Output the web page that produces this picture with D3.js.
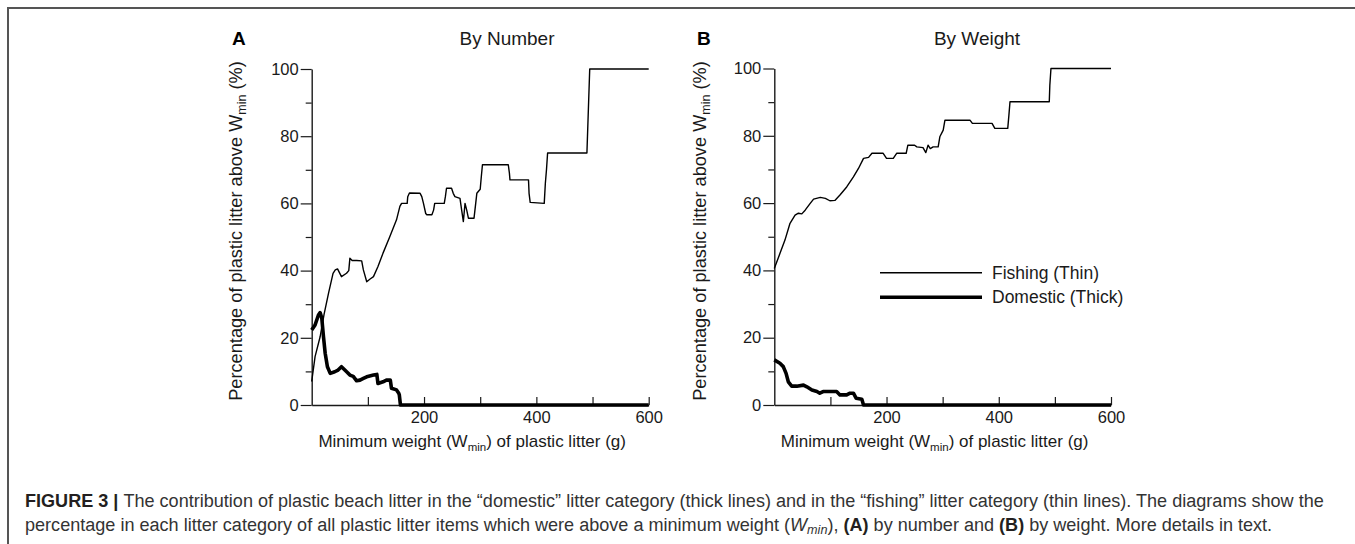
<!DOCTYPE html>
<html><head><meta charset="utf-8">
<script src="https://cdn.jsdelivr.net/npm/d3@7"></script>
<style>
html,body{margin:0;padding:0;background:#fff;}
svg{display:block;}
text{font-family:"Liberation Sans",Arial,sans-serif;}
</style></head>
<body>
<svg id="c" width="1355" height="544"></svg>
<script>
// ---- data (x = minimum weight in g, y = percentage) ----
const fishingByNumber = [[0,7],[6,14.4],[15,20.3],[22,27],[30,33.3],[38,39.2],[42,40.2],[46,40.5],[53,38.2],[62,39.2],[66,40],[68,43.7],[72,43],[80,43],[89,42.9],[92,40.2],[98,36.7],[104,37.5],[110,38.2],[118,41.2],[127,45.2],[139,50.1],[151,55.1],[157,59.1],[160,60],[170,60],[171,62],[174,63.1],[193,63],[196,62],[199,60],[203,57],[205,56.6],[214,56.6],[217,58],[219,60],[236,60],[238,62],[240,64.5],[249,64.5],[252,63],[255,62],[264,61.5],[267,58],[270,54.6],[273,60],[276,58],[279,55.6],[289,55.6],[292,60],[294,63],[300,64.2],[302,68],[304,71.5],[350,71.5],[352,69],[353,67],[386,67],[387,63],[389,60.3],[414,60],[416,66],[418,70],[420,75],[490,75],[491,80],[493,90],[495,100],[600,100]];
const domesticByNumber = [[0,22.3],[6,23.8],[12,26.8],[15,27.5],[18,25.8],[21,20.3],[24,15.4],[28,11.4],[33,9.4],[41,9.9],[47,10.4],[53,11.4],[59,10.4],[64,9.6],[68,8.9],[74,8.5],[80,7.2],[86,7.4],[92,7.9],[98,8.4],[110,8.9],[116,9.1],[118,6.4],[127,6.9],[133,7.4],[140,7.4],[142,5],[151,4.5],[155,3.5],[156,3],[158,0],[600,0]];
const fishingByWeight = [[0,40.6],[10,45],[19,49],[28,54],[37,56.4],[43,57],[49,56.8],[55,57.9],[64,59.9],[70,61.2],[82,61.7],[91,61.4],[99,60.7],[108,60.8],[117,62.4],[129,64.8],[141,67.8],[150,70.3],[159,73.3],[168,73.6],[174,74.8],[194,74.8],[200,73.3],[212,73.3],[218,74.8],[235,74.8],[238,77.2],[250,77.2],[254,76.7],[265,76.5],[270,75],[274,77.2],[278,76.2],[283,76.7],[292,76.7],[295,79.7],[301,81.7],[304,84.6],[349,84.6],[353,83.7],[388,83.7],[393,82.2],[416,82.2],[418,86],[420,90.1],[490,90.1],[491,95],[493,100],[600,100]];
const domesticByWeight = [[0,13.4],[10,12.4],[16,11.4],[21,9.4],[25,6.9],[31,5.6],[40,5.6],[52,5.9],[58,5.4],[67,4.45],[76,4],[81,3.5],[87,4],[111,4],[117,3],[129,3],[135,3.5],[141,3.5],[146,2],[156,1.7],[159,0],[600,0]];

const xMajorTicks = [200,400,600];
const xAllTicks = [100,200,300,400,500,600];
const yMajorTicks = [0,20,40,60,80,100];
const yMinorTicks = [10,30,50,70,90];
const panelTitles = ["By Number","By Weight"];
const panelLetters = ["A","B"];
const legendLabels = ["Fishing (Thin)","Domestic (Thick)"];

const svg = d3.select("#c");
const ink = "#1a1a1a";

// frame (top and left rules)
svg.append("path").attr("d","M8,544V8H1355").attr("fill","none").attr("stroke","#555").attr("stroke-width",2);

const panels = [
  {x0:311.7, x1:648.7, y0:405, y1:69, fish:fishingByNumber, dom:domesticByNumber, labelX:242, titleX:507, letterX:232},
  {x0:774.3, x1:1111, y0:405, y1:68.5, fish:fishingByWeight, dom:domesticByWeight, labelX:706, titleX:977, letterX:697}
];

panels.forEach((p,i)=>{
  const x = d3.scaleLinear().domain([0,600]).range([p.x0,p.x1]);
  const y = d3.scaleLinear().domain([0,100]).range([p.y0,p.y1]);
  const g = svg.append("g");

  // y axis: major ticks with labels
  const ya = g.append("g").attr("transform",`translate(${p.x0},0)`)
    .call(d3.axisLeft(y).tickValues(yMajorTicks).tickSize(11).tickPadding(2).tickSizeOuter(0));
  ya.select(".domain").attr("stroke",ink).attr("stroke-width",1.4);
  ya.selectAll(".tick line").attr("stroke",ink).attr("stroke-width",1.2);
  ya.selectAll(".tick text").attr("font-size",16.5).attr("fill",ink).attr("font-family","Liberation Sans, Arial, sans-serif");
  const yb = g.append("g").attr("transform",`translate(${p.x0},0)`)
    .call(d3.axisLeft(y).tickValues(yMinorTicks).tickSize(6).tickFormat("").tickSizeOuter(0));
  yb.select(".domain").remove();
  yb.selectAll(".tick line").attr("stroke",ink).attr("stroke-width",1.2);

  // x axis: ticks point inward
  const xa = g.append("g").attr("transform",`translate(0,${p.y0})`)
    .call(d3.axisBottom(x).tickValues(xAllTicks).tickSize(0).tickSizeOuter(0)
      .tickFormat(d=> xMajorTicks.includes(d)? d3.format("d")(d):""));
  xa.select(".domain").attr("stroke",ink).attr("stroke-width",1.4);
  xa.selectAll(".tick line").attr("y2",-8).attr("stroke",ink).attr("stroke-width",1.2);
  xa.selectAll(".tick text").attr("font-size",16.5).attr("fill",ink).attr("dy","0.71em").attr("y",6)
    .attr("font-family","Liberation Sans, Arial, sans-serif");

  const line = d3.line().x(d=>x(d[0])).y(d=>y(d[1]));
  g.append("path").datum(p.dom).attr("d",line).attr("fill","none").attr("stroke","#000")
    .attr("stroke-width",3.6).attr("stroke-linejoin","round");
  g.append("path").datum(p.fish).attr("d",line).attr("fill","none").attr("stroke","#000")
    .attr("stroke-width",1.4).attr("stroke-linejoin","round");

  // titles
  g.append("text").attr("x",p.titleX).attr("y",45).attr("text-anchor","middle").attr("font-size",19).attr("fill",ink).text(panelTitles[i]);
  g.append("text").attr("x",p.letterX).attr("y",45).attr("font-size",19).attr("font-weight","bold").attr("fill","#000").text(panelLetters[i]);

  // y label
  const yl = g.append("text").attr("transform",`translate(${p.labelX},231) rotate(-90)`)
    .attr("text-anchor","middle").attr("font-size",18.2).attr("fill",ink);
  yl.append("tspan").text("Percentage of plastic litter above W");
  yl.append("tspan").attr("font-size",12.5).attr("dy",4).text("min");
  yl.append("tspan").attr("dy",-4).text(" (%)");

  // x label
  const xl = g.append("text").attr("x",(p.x0+p.x1)/2 - 8).attr("y",447)
    .attr("text-anchor","middle").attr("font-size",17).attr("fill",ink);
  xl.append("tspan").text("Minimum weight (W");
  xl.append("tspan").attr("font-size",11.5).attr("dy",4).text("min");
  xl.append("tspan").attr("dy",-4).text(") of plastic litter (g)");
});

// legend (panel B)
const leg = svg.append("g");
const legYs = [272.7, 297.3];
const legW = [1.4, 3.6];
legendLabels.forEach((lab,i)=>{
  leg.append("line").attr("x1",880).attr("x2",982).attr("y1",legYs[i]).attr("y2",legYs[i])
    .attr("stroke","#000").attr("stroke-width",legW[i]);
  leg.append("text").attr("x",992).attr("y",legYs[i]+6).attr("font-size",17.5).attr("fill",ink).text(lab);
});

// caption
const cap = svg.append("g").attr("fill","#333");
const l1 = cap.append("text").attr("x",25).attr("y",507).attr("font-size",15);
l1.append("tspan").attr("font-weight","bold").attr("fill","#231f20").text("FIGURE 3 | ");
l1.append("tspan").text("The contribution of plastic beach litter in the \u201cdomestic\u201d litter category (thick lines) and in the \u201cfishing\u201d litter category (thin lines). The diagrams show the");
const l2 = cap.append("text").attr("x",25).attr("y",531).attr("font-size",15);
l2.append("tspan").text("percentage in each litter category of all plastic litter items which were above a minimum weight (");
l2.append("tspan").attr("font-style","italic").text("W");
l2.append("tspan").attr("font-style","italic").attr("font-size",10.5).attr("dy",3).text("min");
l2.append("tspan").attr("dy",-3).text("), ");
l2.append("tspan").attr("font-weight","bold").attr("fill","#231f20").text("(A)");
l2.append("tspan").text(" by number and ");
l2.append("tspan").attr("font-weight","bold").attr("fill","#231f20").text("(B)");
l2.append("tspan").text(" by weight. More details in text.");
// fit line 1 to its measured width in the reference
const w1 = l1.node().getComputedTextLength();
const fs = 15*1300/w1;
l1.attr("font-size",fs); l2.attr("font-size",fs);
l2.selectAll("tspan").filter(function(){return d3.select(this).text()==="min";}).attr("font-size",fs*0.7);
</script>
</body></html>
